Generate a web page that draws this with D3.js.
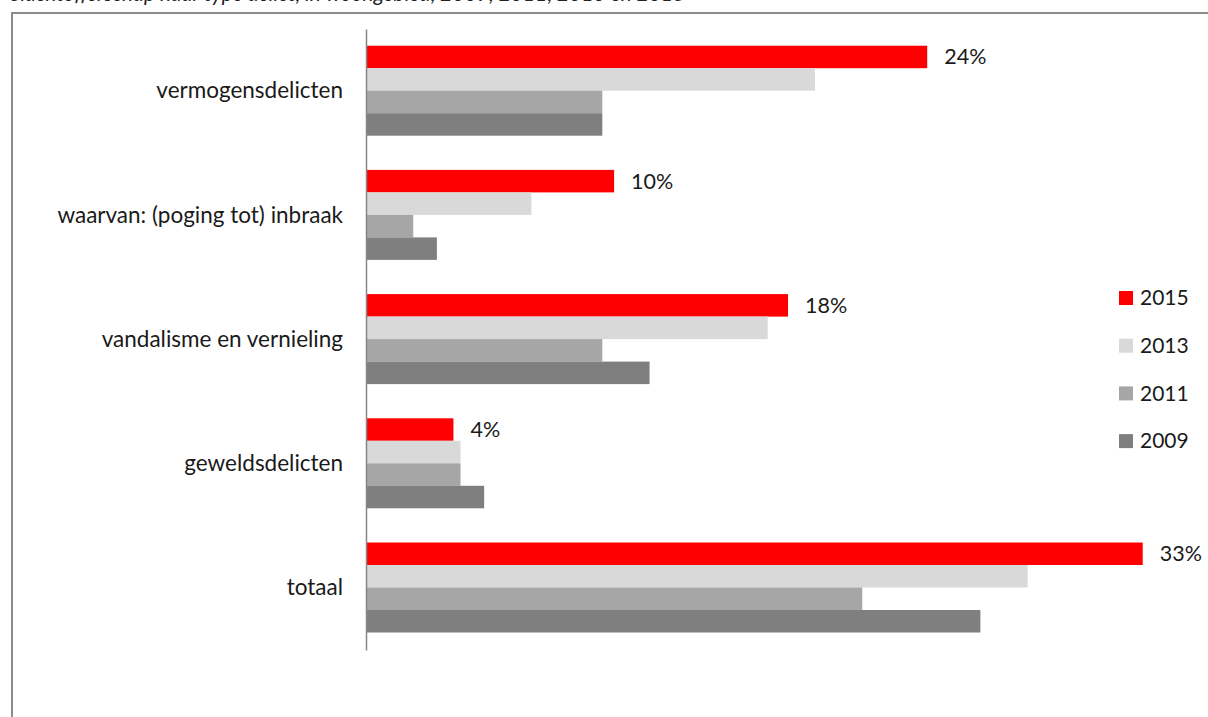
<!DOCTYPE html>
<html>
<head>
<meta charset="utf-8">
<script src="https://cdn.jsdelivr.net/npm/d3@7"></script>
<style>
  html, body { margin: 0; padding: 0; background: #fff; }
  svg { display: block; }
</style>
</head>
<body>
<svg id="chart" width="1208" height="717"></svg>
<script>
const title = "Slachtofferschap naar type delict, in woongebied, 2009, 2011, 2013 en 2015";
const categories = ["vermogensdelicten", "waarvan: (poging tot) inbraak", "vandalisme en vernieling", "geweldsdelicten", "totaal"];
const years = ["2015", "2013", "2011", "2009"];
const values2015 = [23.75, 10.5, 17.86, 3.7, 32.87];
const values2013 = [19, 7, 17, 4, 28];
const values2011 = [10, 2, 10, 4, 21];
const values2009 = [10, 3, 12, 5, 26];
const labels2015 = ["24%", "10%", "18%", "4%", "33%"];
const colors = ["#ff0000", "#d9d9d9", "#a6a6a6", "#7f7f7f"];

const series = [values2015, values2013, values2011, values2009];
const font = "Lato, 'Open Sans', sans-serif";

const svg = d3.select("#chart");

// title (cut off at the top edge, as in the source)
svg.append("text")
  .attr("x", 10).attr("y", 1)
  .attr("font-family", font).attr("font-style", "italic")
  .attr("font-size", 21).attr("fill", "#222")
  .text(title);

// frame
svg.append("path")
  .attr("d", d3.line()([[12, 730], [12, 13], [1215, 13]]))
  .attr("fill", "none").attr("stroke", "#8c8c8c").attr("stroke-width", 2);

const x = d3.scaleLinear().domain([0, 35]).range([366, 366 + 35 * 23.63]);
const y = d3.scaleBand().domain(categories).range([29, 650]).padding(0);
const yInner = d3.scaleBand().domain(years).range([16.7, y.bandwidth() - 17.5]).padding(0);

const rows = categories.map((c, i) => years.map((yr, j) => ({ cat: c, year: yr, value: series[j][i], color: colors[j] })));

const groups = svg.append("g").selectAll("g")
  .data(rows).join("g")
  .attr("transform", (d, i) => `translate(0,${y(categories[i])})`);

groups.selectAll("rect")
  .data(d => d).join("rect")
  .attr("x", x(0))
  .attr("y", d => yInner(d.year))
  .attr("width", d => x(d.value) - x(0))
  .attr("height", yInner.bandwidth())
  .attr("fill", d => d.color);

// value labels for 2015
svg.append("g").selectAll("text")
  .data(categories).join("text")
  .attr("x", (d, i) => x(values2015[i]) + 17)
  .attr("y", d => y(d) + yInner("2015") + yInner.bandwidth() / 2)
  .attr("dy", "0.35em")
  .attr("font-family", font).attr("font-size", 21.5).attr("fill", "#1a1a1a")
  .text((d, i) => labels2015[i]);

// y axis
const yAxis = d3.axisLeft(y).tickSize(0).tickPadding(23);
const ax = svg.append("g").attr("transform", `translate(${x(0)},0)`).call(yAxis);
ax.select(".domain").attr("stroke", "#868686").attr("stroke-width", 1.5);
ax.selectAll("text").attr("font-family", font).attr("font-size", 22.5).attr("fill", "#1a1a1a");

// legend
const legend = svg.append("g").selectAll("g")
  .data(years).join("g")
  .attr("transform", (d, i) => `translate(1119,${298 + i * 47.7})`);
legend.append("rect")
  .attr("x", 0).attr("y", -7).attr("width", 14).attr("height", 14)
  .attr("fill", (d, i) => colors[i]);
legend.append("text")
  .attr("x", 21).attr("dy", "0.35em")
  .attr("font-family", font).attr("font-size", 21).attr("fill", "#1a1a1a")
  .text(d => d);
</script>
</body>
</html>
